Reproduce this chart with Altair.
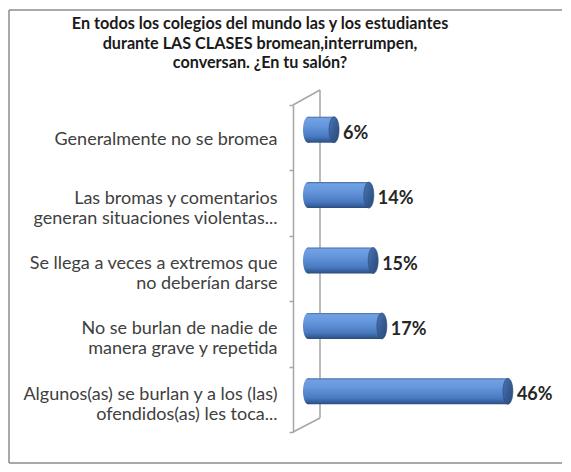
import altair as alt
import pandas as pd

# ---- data ----
categorias = [
    "Generalmente no se bromea",
    "Las bromas y comentarios|generan situaciones violentas...",
    "Se llega a veces a extremos que|no deberían darse",
    "No se burlan de nadie de|manera grave y repetida",
    "Algunos(as) se burlan y a los (las)|ofendidos(as) les toca...",
]
valores = [6, 14, 15, 17, 46]
etiquetas = ["6%", "14%", "15%", "17%", "46%"]

titulo = [
    "En todos los colegios del mundo las y los estudiantes",
    "durante LAS CLASES bromean,interrumpen,",
    "conversan. ¿En tu salón?",
]

df = pd.DataFrame({"categoria": categorias, "valor": valores, "etiqueta": etiquetas})
one = pd.DataFrame({"k": [0]})

FONT = "Lato"
W, H = 239, 327
DX, DY = 15, -8          # 3D depth shift of the bars
BAR_H = 26
GRAY = "#a6a6a6"

body_grad = {
    "gradient": "linear", "x1": 0, "y1": 0, "x2": 0, "y2": 1,
    "stops": [
        {"offset": 0.0, "color": "#416ca9"},
        {"offset": 0.07, "color": "#72a0e2"},
        {"offset": 0.35, "color": "#6596dc"},
        {"offset": 0.75, "color": "#4a7bc2"},
        {"offset": 0.93, "color": "#345b95"},
        {"offset": 1.0, "color": "#2a4a7c"},
    ],
}
cap_grad = {
    "gradient": "linear", "x1": 0, "y1": 0, "x2": 1, "y2": 1,
    "stops": [
        {"offset": 0.0, "color": "#4b76b4"},
        {"offset": 0.5, "color": "#375d95"},
        {"offset": 1.0, "color": "#2a4877"},
    ],
}
ellipse = "M0,-1 A0.385,1 0 1,1 0,1 A0.385,1 0 1,1 0,-1 Z"

y_enc = alt.Y(
    "categoria:N",
    sort=categorias,
    scale=alt.Scale(paddingInner=0, paddingOuter=0),
    axis=alt.Axis(
        title=None,
        labelExpr="split(datum.label, '|')",
        tickBand="extent",
        tickSize=4,
        tickColor=GRAY,
        tickWidth=1.5,
        domainColor=GRAY,
        domainWidth=1.5,
        labelPadding=12,
        labelFont=FONT,
        labelFontSize=18,
        labelLineHeight=20,
        labelColor="#404040",
        labelAlign="right",
        labelBaseline="middle",
        labelOffset={"condition": {"test": "indexof(datum.label, '|') >= 0", "value": -5}, "value": 2},
        labelLimit=400,
    ),
)
x_scale = alt.Scale(domain=[0, 55], nice=False, zero=True)
x_enc = alt.X("valor:Q", scale=x_scale, axis=None)

base = alt.Chart(df)

deco = alt.Chart(one)
border_left = deco.mark_rule(color="#8c8c8c", strokeWidth=1.5).encode(
    x=alt.value(-284), y=alt.value(-95), y2=alt.value(358)
)
border_top = deco.mark_rule(color="#8c8c8c", strokeWidth=1.5).encode(
    x=alt.value(-284), x2=alt.value(269), y=alt.value(-95)
)
border_bottom = deco.mark_rule(color="#8c8c8c", strokeWidth=1.5).encode(
    x=alt.value(-284), x2=alt.value(269), y=alt.value(358)
)
wall_back = deco.mark_rule(color=GRAY, strokeWidth=1.5).encode(
    x=alt.value(27), y=alt.value(-15), y2=alt.value(313)
)
wall_top = deco.mark_rule(color=GRAY, strokeWidth=1.5).encode(
    x=alt.value(0), x2=alt.value(27), y=alt.value(0), y2=alt.value(-15)
)
wall_bottom = deco.mark_rule(color=GRAY, strokeWidth=1.5).encode(
    x=alt.value(0), x2=alt.value(27), y=alt.value(H), y2=alt.value(H - 14)
)
title_text = deco.mark_text(
    align="center", baseline="top", font=FONT, fontSize=16.2, fontWeight="bold",
    color="#1a1a1a", lineHeight=19.5,
).encode(x=alt.value(-33), y=alt.value(-89), text=alt.value(titulo))

left_end = base.mark_point(
    shape=ellipse, size=BAR_H * BAR_H, filled=True, fill=body_grad, strokeWidth=0,
    opacity=1, xOffset=DX, yOffset=DY,
).encode(x=alt.X("zero:Q", scale=x_scale, axis=None), y=y_enc).transform_calculate(zero="0")

body = base.mark_bar(size=BAR_H, fill=body_grad, xOffset=DX, yOffset=DY).encode(x=x_enc, y=y_enc)

cap = base.mark_point(
    shape=ellipse, size=BAR_H * BAR_H, filled=True, fill=cap_grad, stroke="#2a4877",
    strokeWidth=0.6, opacity=1, xOffset=DX, yOffset=DY,
).encode(x=x_enc, y=y_enc)

texto = base.mark_text(
    align="left", baseline="middle", font=FONT, fontSize=18, fontWeight="bold",
    color="#262626", xOffset=DX + 9, yOffset=-4,
).encode(x=x_enc, y=y_enc, text="etiqueta:N")

chart = (
    alt.layer(border_left, border_top, border_bottom, wall_back, wall_top, wall_bottom,
              title_text, left_end, body, cap, texto)
    .properties(
        width=W,
        height=H,
        autosize=alt.AutoSizeParams(type="none"),
        padding={"left": 285, "top": 97, "right": 31, "bottom": 32},
        background="white",
    )
    .configure_view(strokeWidth=0)
)

chart.save("out.html", embed_options={"renderer": "svg", "actions": False})
